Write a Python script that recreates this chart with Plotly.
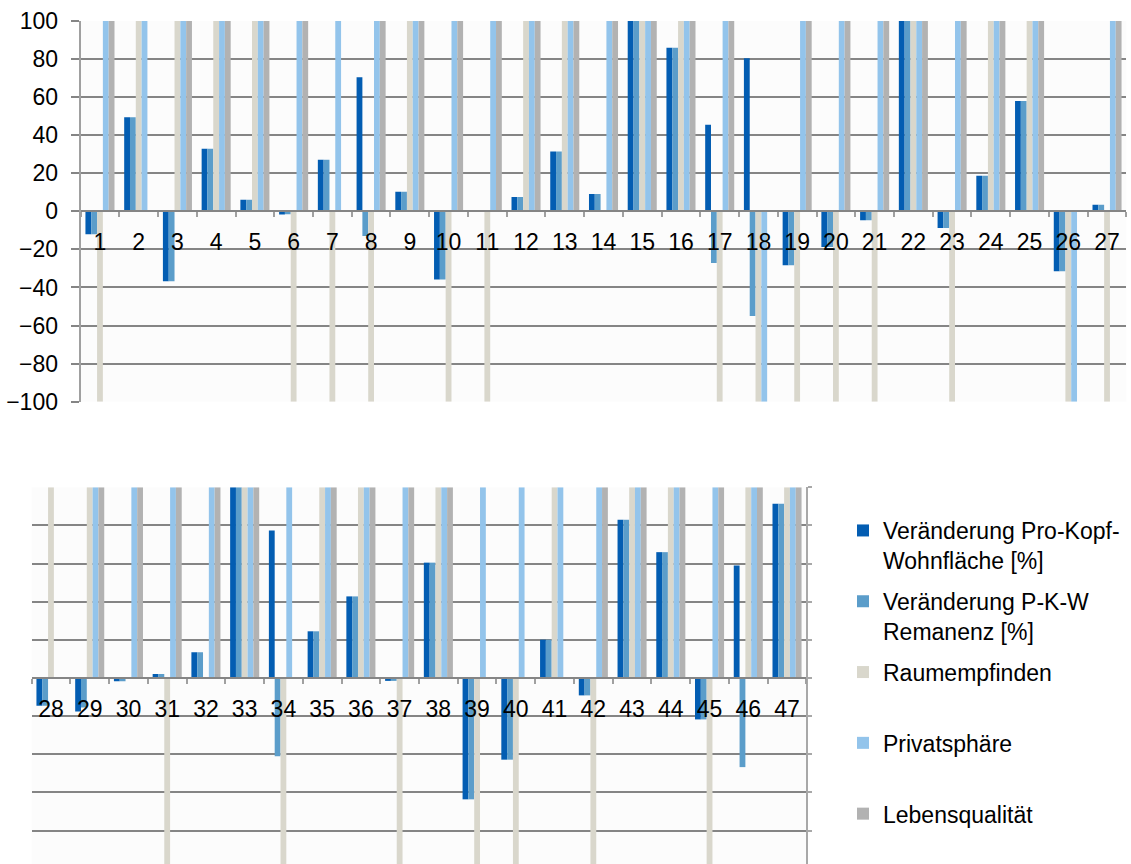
import plotly.graph_objects as go

# Category numbers (two rows of the chart)
cats_top = [str(i) for i in range(1, 28)]
cats_bottom = [str(i) for i in range(28, 48)]

# Series values for categories 1..47
wohnflaeche = [-12, 49.5, -36.7, 32.9, 6.1, -1.7, 27.1, 70.5, 10.3, -35.8,
               0.5, 7.5, 31.5, 9.1, 100, 86, 45.5, 80.4, -28.3, -18.7,
               -4.7, 100, -8.7, 18.7, 58, -31.5, 3.5,
               -14.5, -17.5, -1.7, 2.1, 13.5, 100, 77.4, 24.5, 42.8, -1.5,
               60.5, -63.6, -42.8, 20.1, -9.1, 83, 66, -21.7, 59, 91.4]
remanenz = [-12, 49.5, -36.7, 32.9, 6.1, -1.5, 27.1, -13, 10.3, -35.8,
            0.5, 7.5, 31.5, 9.1, 100, 86, -27.1, -55, -28.3, -18.7,
            -4.7, 100, -8.7, 18.7, 58, -31.5, 3.5,
            -14.5, -15.5, -1.7, 2.1, 13.5, 100, -41, 24.5, 42.8, -1.5,
            60.5, -63.6, -42.8, 20.1, -9.1, 83, 66, -21.7, -46.7, 91.4]
raumempfinden = [-100, 100, 100, 100, 100, -100, -100, -100, 100, -100,
                 -100, 100, 100, 0, 100, 100, -100, -100, -100, -100,
                 -100, 100, -100, 100, 100, -100, -100,
                 100, 100, 0, -100, 0, 100, -100, 100, 100, -100,
                 100, -100, -100, 100, -100, 100, 100, -100, 100, 100]
privatsphaere = [100, 100, 100, 100, 100, 100, 100, 100, 100, 100,
                 100, 100, 100, 100, 100, 100, 100, -100, 100, 100,
                 100, 100, 100, 100, 100, -100, 100,
                 0, 100, 100, 100, 100, 100, 100, 100, 100, 100,
                 100, 100, 100, 100, 100, 100, 100, 100, 100, 100]
lebensqualitaet = [100, 0, 100, 100, 100, 100, 0, 100, 100, 100,
                   100, 100, 100, 100, 100, 100, 100, 0, 100, 100,
                   100, 100, 100, 100, 100, 0, 100,
                   0, 100, 100, 100, 100, 100, 0, 100, 100, 100,
                   100, 0, 0, 0, 100, 100, 100, 100, 100, 100]

series = [
    ("Veränderung Pro-Kopf-<br>Wohnfläche [%]", wohnflaeche, "#035DB2"),
    ("Veränderung P-K-W<br>Remanenz [%]", remanenz, "#5B9DCA"),
    ("Raumempfinden<br> ", raumempfinden, "#D9D7CC"),
    ("Privatsphäre<br> ", privatsphaere, "#93C4EB"),
    ("Lebensqualität<br> ", lebensqualitaet, "#B2B2B2"),
]

W, H = 1131, 864
FONT = "Liberation Sans, Arial, sans-serif"
GRID = "#858585"
n_top = len(cats_top)

fig = go.Figure()
for i, (name, vals, color) in enumerate(series):
    fig.add_trace(go.Bar(
        x=cats_top, y=vals[:n_top], name=name, marker_color=color,
        marker_line_width=0, legendgroup=f"g{i}", xaxis="x", yaxis="y",
    ))
for i, (name, vals, color) in enumerate(series):
    fig.add_trace(go.Bar(
        x=cats_bottom, y=vals[n_top:], name=name, marker_color=color,
        marker_line_width=0, legendgroup=f"g{i}", showlegend=False,
        xaxis="x2", yaxis="y2",
    ))

# pixel geometry of the two plot panels
top_y0, top_y1 = 1 - 401.7 / H, 1 - 21.0 / H
bot_y1 = 1 - 487.3 / H

fig.update_layout(
    width=W, height=H,
    margin=dict(l=0, r=0, t=0, b=0, autoexpand=False),
    paper_bgcolor="white",
    plot_bgcolor="#FCFCFC",
    barmode="group", bargap=0.25, bargroupgap=0,
    font=dict(family=FONT, size=23, color="black"),
    showlegend=True,
    legend=dict(
        x=843 / W, y=1 - 509 / H, xanchor="left", yanchor="top",
        font=dict(size=23), valign="top", tracegroupgap=8,
        bgcolor="rgba(0,0,0,0)",
    ),
    xaxis=dict(
        domain=[80.6 / W, 1126.4 / W], anchor="free",
        position=(top_y0 + top_y1) / 2, automargin=False,
        type="category", showline=True, linecolor=GRID, linewidth=2,
        ticks="outside", tickson="boundaries", ticklen=5, tickwidth=2,
        tickcolor="#A0A0A0", showgrid=False, ticklabelstandoff=10,
        tickfont=dict(size=23),
    ),
    yaxis=dict(
        domain=[top_y0, top_y1], range=[-100, 100], dtick=20,
        automargin=False,
        showgrid=True, gridcolor=GRID, gridwidth=2, zeroline=False,
        showline=True, linecolor="#A0A0A0", linewidth=2,
        ticks="outside", ticklen=8, tickwidth=2, tickcolor=GRID,
        ticklabelstandoff=8, tickfont=dict(size=23),
    ),
    xaxis2=dict(
        domain=[31.6 / W, 806.4 / W], anchor="free",
        position=1 - 678.0 / H, automargin=False,
        type="category", showline=True, linecolor=GRID, linewidth=2,
        ticks="outside", tickson="boundaries", ticklen=5, tickwidth=2,
        tickcolor="#A0A0A0", showgrid=False, ticklabelstandoff=10,
        tickfont=dict(size=23),
    ),
    yaxis2=dict(
        domain=[0, bot_y1], range=[-97.5, 100], dtick=20,
        automargin=False,
        showgrid=True, gridcolor=GRID, gridwidth=2, zeroline=False,
        showticklabels=False, side="right", anchor="x2",
        showline=True, linecolor="#A8A8A8", linewidth=2,
        ticks="outside", ticklen=4, tickwidth=2, tickcolor="#A8A8A8",
    ),
)

fig.write_html("out.html")
